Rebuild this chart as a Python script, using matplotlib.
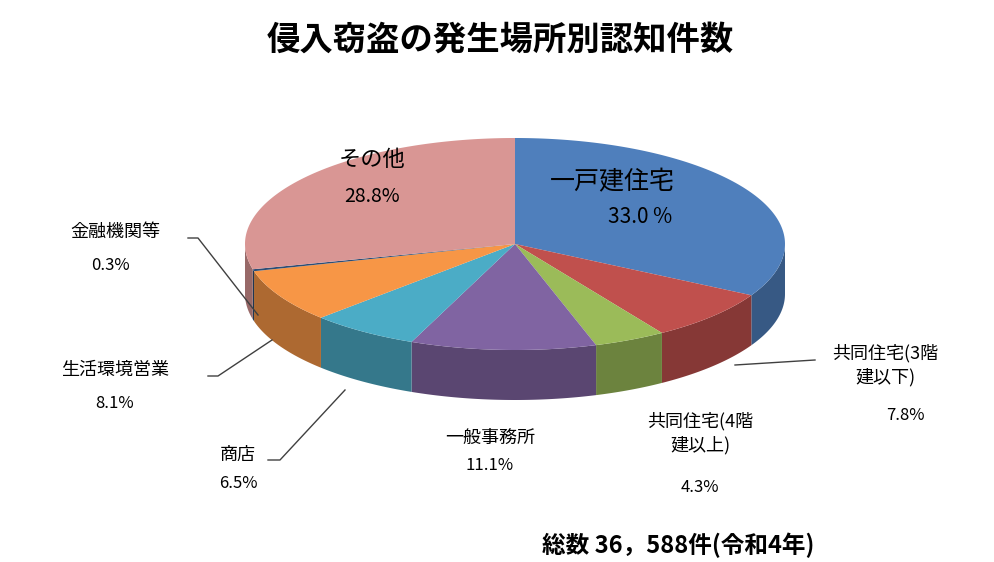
import numpy as np
import matplotlib
matplotlib.use("Agg")
import matplotlib.pyplot as plt
from matplotlib.colors import to_rgb

plt.rcParams['font.family'] = ['Noto Sans CJK JP', 'DejaVu Sans']

categories = ["一戸建住宅", "共同住宅(3階\n建以下)", "共同住宅(4階\n建以上)", "一般事務所", "商店", "生活環境営業", "金融機関等", "その他"]
values = [33.0, 7.8, 4.3, 11.1, 6.5, 8.1, 0.3, 28.8]
pct_labels = ["33.0 %", "7.8%", "4.3%", "11.1%", "6.5%", "8.1%", "0.3%", "28.8%"]
colors = ["#4F7FBC", "#C0504D", "#9BBB59", "#8064A2", "#4BACC6", "#F79646", "#2C4D75", "#D99694"]

fig = plt.figure(figsize=(9.94, 5.62), dpi=100)
ax = fig.add_axes([0, 0, 1, 1])
ax.set_xlim(0, 994); ax.set_ylim(562, 0); ax.axis('off')

cx, cy, rx, ry, depth = 515, 244, 270, 106, 50
def dark(c, f=0.7):
    r, g, b = to_rgb(c); return (r*f, g*f, b*f)

total = sum(values)
starts = [-90 + 360*sum(values[:i])/total for i in range(len(values))]
ends = [-90 + 360*sum(values[:i+1])/total for i in range(len(values))]

for s, e, c in zip(starts, ends, colors):
    a = max(s, 0); b = min(e, 180)
    if b > a:
        t = np.radians(np.linspace(a, b, 80))
        xt = cx + rx*np.cos(t); yt = cy + ry*np.sin(t)
        xs = np.concatenate([xt, xt[::-1]]); ys = np.concatenate([yt, yt[::-1] + depth])
        ax.fill(xs, ys, color=dark(c), lw=0)
for s, e, c in zip(starts, ends, colors):
    t = np.radians(np.linspace(s, e, 120))
    xs = np.concatenate([[cx], cx + rx*np.cos(t)]); ys = np.concatenate([[cy], cy + ry*np.sin(t)])
    ax.fill(xs, ys, color=c, lw=0)

fs = 13
ax.text(500, 40, "侵入窃盗の発生場所別認知件数", ha='center', va='center', fontsize=24, fontweight='bold')
ax.text(612, 182, categories[0], ha='center', va='center', fontsize=18)
ax.text(640, 217, pct_labels[0], ha='center', va='center', fontsize=15)
ax.text(372, 160, categories[7], ha='center', va='center', fontsize=16)
ax.text(372, 197, pct_labels[7], ha='center', va='center', fontsize=14)
ax.text(885, 365, categories[1], ha='center', va='center', fontsize=fs, linespacing=1.35)
ax.text(905, 415, pct_labels[1], ha='center', va='center', fontsize=12)
ax.text(700, 433, categories[2], ha='center', va='center', fontsize=fs, linespacing=1.35)
ax.text(700, 487, pct_labels[2], ha='center', va='center', fontsize=12)
ax.text(490, 438, categories[3], ha='center', va='center', fontsize=fs)
ax.text(490, 466, pct_labels[3], ha='center', va='center', fontsize=12)
ax.text(238, 455, categories[4], ha='center', va='center', fontsize=fs)
ax.text(238, 484, pct_labels[4], ha='center', va='center', fontsize=12)
ax.text(115, 370, categories[5], ha='center', va='center', fontsize=fs)
ax.text(115, 403, pct_labels[5], ha='center', va='center', fontsize=12)
ax.text(115, 232, categories[6], ha='center', va='center', fontsize=fs)
ax.text(110, 266, pct_labels[6], ha='center', va='center', fontsize=12)
lk = dict(color='#404040', lw=1)
ax.plot([815, 735], [360, 365], **lk)
ax.plot([188, 198, 258], [238, 238, 315], **lk)
ax.plot([208, 218, 272], [376, 376, 340], **lk)
ax.plot([268, 280, 345], [460, 460, 390], **lk)
ax.text(678, 545, "総数 36，588件(令和4年)", ha='center', va='center', fontsize=17, fontweight='bold')
fig.savefig("out.png", dpi=100)
